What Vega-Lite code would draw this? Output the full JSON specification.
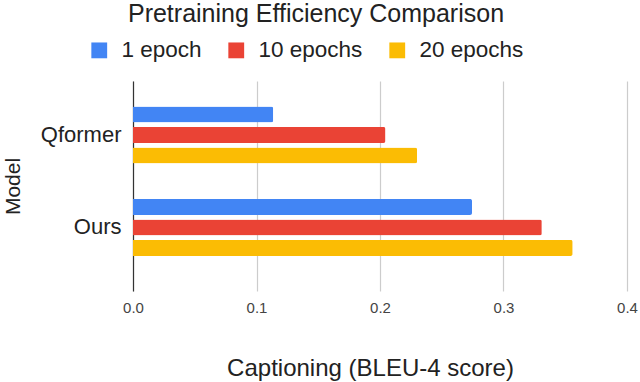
{
  "$schema": "https://vega.github.io/schema/vega-lite/v6.json",
  "width": 494,
  "height": 210,
  "autosize": "none",
  "padding": {"left": 133, "top": 81, "right": 13, "bottom": 91},
  "background": "white",
  "config": {
    "font": "Liberation Sans",
    "view": {"stroke": null}
  },
  "title": {
    "text": "Pretraining Efficiency Comparison",
    "fontSize": 25,
    "fontWeight": "normal",
    "color": "#222222",
    "anchor": "middle",
    "frame": "group",
    "dx": -64,
    "offset": 12
  },
  "data": {
    "values": [
      {"model": "Qformer", "series": "1 epoch", "score": 0.1135},
      {"model": "Qformer", "series": "10 epochs", "score": 0.2044},
      {"model": "Qformer", "series": "20 epochs", "score": 0.230},
      {"model": "Ours", "series": "1 epoch", "score": 0.2745},
      {"model": "Ours", "series": "10 epochs", "score": 0.331},
      {"model": "Ours", "series": "20 epochs", "score": 0.356}
    ]
  },
  "mark": {"type": "bar", "cornerRadiusEnd": 2},
  "encoding": {
    "y": {
      "field": "model",
      "type": "nominal",
      "sort": ["Qformer", "Ours"],
      "scale": {"paddingInner": 0.384, "paddingOuter": 0.327, "align": 0.42},
      "axis": {
        "title": "Model",
        "titleFontSize": 21,
        "titleFontWeight": "normal",
        "titleColor": "#222222",
        "titleX": -120,
        "titleY": 105,
        "titleAlign": "center",
        "titleBaseline": "middle",
        "labelFontSize": 22,
        "labelColor": "#222222",
        "labelPadding": 12,
        "ticks": false,
        "domainColor": "#333333",
        "domainWidth": 1.2
      }
    },
    "yOffset": {
      "field": "series",
      "type": "nominal",
      "sort": ["1 epoch", "10 epochs", "20 epochs"],
      "scale": {"paddingInner": 0.22, "paddingOuter": 0}
    },
    "x": {
      "field": "score",
      "type": "quantitative",
      "scale": {"domain": [0, 0.4], "nice": false},
      "axis": {
        "title": "Captioning (BLEU-4 score)",
        "titleFontSize": 24,
        "titleFontWeight": "normal",
        "titleColor": "#222222",
        "titleX": 237,
        "titleY": 77,
        "titleAlign": "center",
        "titleBaseline": "middle",
        "values": [0, 0.1, 0.2, 0.3, 0.4],
        "format": ".1f",
        "labelFontSize": 15,
        "labelColor": "#444444",
        "labelPadding": 9,
        "labelFlush": false,
        "ticks": false,
        "domain": false,
        "grid": true,
        "gridColor": "#cccccc",
        "gridWidth": 1.2,
        "encode": {"labels": {"update": {"dx": {"signal": "-40*datum.value - 1"}}}}
      }
    },
    "color": {
      "field": "series",
      "type": "nominal",
      "sort": ["1 epoch", "10 epochs", "20 epochs"],
      "scale": {
        "domain": ["1 epoch", "10 epochs", "20 epochs"],
        "range": ["#4285F4", "#EA4335", "#FBBC04"]
      },
      "legend": {
        "title": null,
        "orient": "none",
        "direction": "horizontal",
        "legendX": -45,
        "legendY": -42,
        "symbolType": "square",
        "symbolSize": 250,
        "symbolStrokeWidth": 0,
        "labelFontSize": 22.5,
        "labelColor": "#222222",
        "labelOffset": 11,
        "columnPadding": 23
      }
    }
  }
}
